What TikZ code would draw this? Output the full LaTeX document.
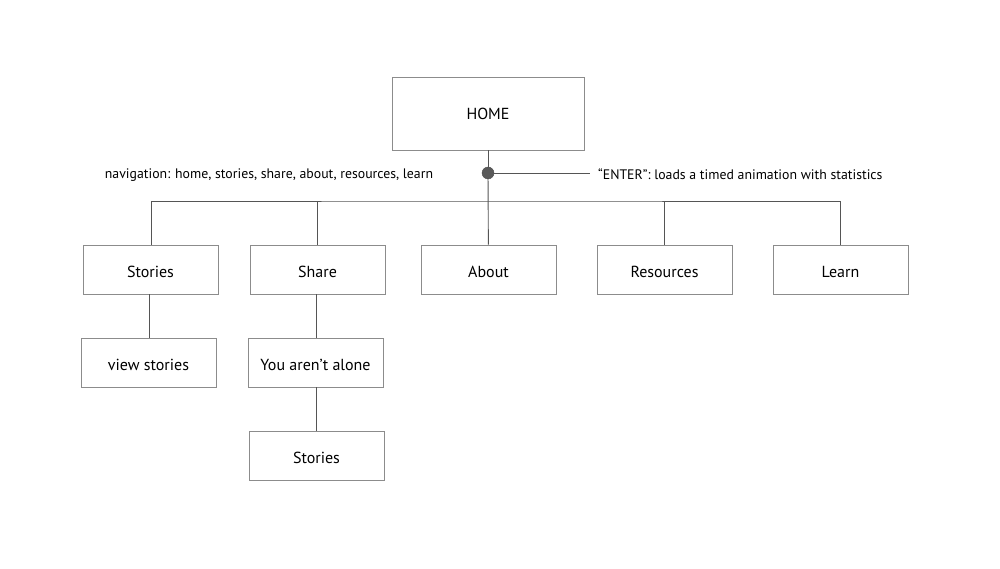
\documentclass[tikz,border=0pt]{standalone}
\usepackage{fontspec}
\setmainfont{PT Sans}
\usepackage{tikz}
\usetikzlibrary{positioning, calc}
\definecolor{lineColor}{RGB}{85, 85, 85}
\definecolor{boxColor}{RGB}{140, 140, 140}
\definecolor{dotColor}{RGB}{90, 90, 90}

\begin{document}
\begin{tikzpicture}[x=1pt,y=-1pt,
  page/.style={draw=boxColor,line width=0.9pt,minimum width=135pt,minimum height=49pt,inner sep=0pt,text height=15pt,text depth=0pt,font=\fontsize{16}{19}\selectfont},
  note/.style={font=\fontsize{13.8}{16}\selectfont},
  link/.style={draw=lineColor,line width=0.9pt}]
\useasboundingbox (0,0) rectangle (1000,569);
% top
\node[page,minimum width=192pt,minimum height=73pt,text height=,text depth=] (home) at (488,113.5) {HOME};
\node[circle,fill=dotColor,draw=black!70,inner sep=0pt,minimum size=12pt] (dot) at (488,173) {};
\node[note,anchor=west,inner xsep=8pt,inner ysep=0pt] (enter) at (590,174) {“ENTER”: loads a timed animation with statistics};
\node[note] (nav) at (269,175) {navigation: home, stories, share, about, resources, learn};
% first row
\node[page] (stories) at (150.5,269.5) {Stories};
\node[page] (share) at (317.5,269.5) {Share};
\node[page] (about) at (488.5,269.5) {About};
\node[page] (resources) at (664.5,269.5) {Resources};
\node[page] (learn) at (840.5,269.5) {Learn};
% second row
\node[page] (view) at (148.5,362.5) {view stories};
\node[page] (alone) at (315.5,362.5) {You aren’t alone};
\node[page] (shared) at (316.5,455.5) {Stories};
% links
\coordinate (bus) at (488,201);
\draw[link] (home) -- (dot);
\draw[link] (dot) -- (about);
\draw[link] (dot) -- (enter.west |- dot);
\draw[link] (stories.north -| 151,0) |- (bus) -| (learn.north);
\draw[link] (share.north) -- (share.north |- bus);
\draw[link] (resources.north) -- (resources.north |- bus);
\draw[link] (stories.south -| 149,0) -- (view.north -| 149,0);
\draw[link] (share.south -| 316.5,0) -- (alone.north -| 316.5,0);
\draw[link] (alone.south -| 316.5,0) -- (shared.north);
\end{tikzpicture}
\end{document}
